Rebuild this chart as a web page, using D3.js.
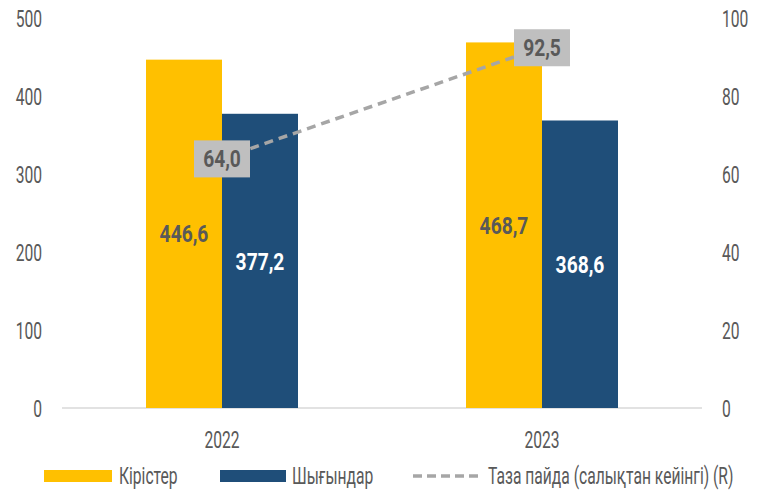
<!DOCTYPE html>
<html>
<head>
<meta charset="utf-8">
<script src="https://cdn.jsdelivr.net/npm/d3@7"></script>
<style>
  body { margin: 0; background: #fff; }
  svg text { font-family: Roboto, "Noto Sans", sans-serif; }
</style>
</head>
<body>
<div id="chart"></div>
<script>
const years = ["2022", "2023"];
const seriesNames = ["Кірістер", "Шығындар"];
const revenue = [446.6, 468.7];
const expenses = [377.2, 368.6];
const netProfit = [64.0, 92.5];
const lineName = "Таза пайда (салықтан кейінгі) (R)";
const leftTicks = [0, 100, 200, 300, 400, 500];
const rightTicks = [0, 20, 40, 60, 80, 100];

const width = 758;
const height = 492;
const colors = ["#FFC000", "#1F4E79"];
const labelColors = ["#595959", "#ffffff"];
const textColor = "#595959";
const narrow = 0.68;     // condensed look for regular text
const narrowBold = 0.8;  // condensed look for bold labels
const fmt = (v) => v.toFixed(1).replace(".", ",");

const svg = d3.select("#chart").append("svg").attr("width", width).attr("height", height);

// text helper: squeezes text horizontally to get a condensed face
function addText(parent, x, y, str, opt) {
  const g = parent.append("g").attr("transform", `translate(${x},${y}) scale(${opt.sx || narrow},1)`);
  return g.append("text")
    .attr("text-anchor", opt.anchor || "start")
    .attr("dy", "0.36em")
    .attr("fill", opt.fill || textColor)
    .style("font-size", (opt.size || 23) + "px")
    .style("font-weight", opt.weight || "normal")
    .text(str);
}

const x0 = d3.scaleBand().domain(years).range([62, 702]).paddingInner(0.525).paddingOuter(0.2625);
const x1 = d3.scaleBand().domain(seriesNames).range([0, x0.bandwidth()]);
const yL = d3.scaleLinear().domain([0, 500]).range([408, 18]);
const yR = d3.scaleLinear().domain([0, 100]).range([408, 18]);

// axes (labels only)
const leftAxis = svg.append("g").attr("transform", "translate(42,0)")
  .call(d3.axisLeft(yL).tickValues(leftTicks).tickSize(0).tickPadding(0));
const rightAxis = svg.append("g").attr("transform", "translate(722,0)")
  .call(d3.axisRight(yR).tickValues(rightTicks).tickSize(0).tickPadding(0));
[leftAxis, rightAxis].forEach((a) => {
  a.select(".domain").remove();
  a.selectAll("text")
    .attr("fill", textColor)
    .attr("dy", "0.36em")
    .attr("transform", `scale(${narrow},1)`)
    .style("font-size", "23px")
    .style("font-family", "Roboto, sans-serif");
});

// baseline
svg.append("line")
  .attr("x1", 62).attr("x2", 702)
  .attr("y1", yL(0)).attr("y2", yL(0))
  .attr("stroke", "#d9d9d9").attr("stroke-width", 1.5);

// bars
const data = years.map((y, i) => ({ year: y, values: [revenue[i], expenses[i]] }));
const groups = svg.selectAll(".grp").data(data).join("g")
  .attr("transform", (d) => `translate(${x0(d.year)},0)`);

groups.selectAll("rect").data((d) => d.values.map((v, j) => ({ v, j })))
  .join("rect")
  .attr("x", (d) => x1(seriesNames[d.j]))
  .attr("width", x1.bandwidth())
  .attr("y", (d) => yL(d.v))
  .attr("height", (d) => yL(0) - yL(d.v))
  .attr("fill", (d) => colors[d.j]);

groups.each(function (d) {
  const g = d3.select(this);
  d.values.forEach((v, j) => {
    addText(g, x1(seriesNames[j]) + x1.bandwidth() / 2, yL(v / 2), fmt(v),
      { anchor: "middle", fill: labelColors[j], size: 24, weight: "bold", sx: narrowBold });
  });
});

// net profit line
const linePts = years.map((y, i) => [x0(y) + x0.bandwidth() / 2, yR(netProfit[i])]);
svg.append("path")
  .attr("d", d3.line()(linePts))
  .attr("fill", "none")
  .attr("stroke", "#a6a6a6")
  .attr("stroke-width", 3.5)
  .attr("stroke-dasharray", "9,6");

linePts.forEach((p, i) => {
  svg.append("rect")
    .attr("x", p[0] - 28).attr("y", p[1] - 18).attr("width", 56).attr("height", 37)
    .attr("fill", "#bfbfbf");
  addText(svg, p[0], p[1], fmt(netProfit[i]),
    { anchor: "middle", size: 24, weight: "bold", sx: narrowBold });
});

// category labels
years.forEach((y) => {
  addText(svg, x0(y) + x0.bandwidth() / 2, 440, y, { anchor: "middle", size: 23 });
});

// legend
const leg = svg.append("g").attr("transform", "translate(0,476)");
leg.append("rect").attr("x", 44).attr("y", -6).attr("width", 68).attr("height", 12).attr("fill", colors[0]);
addText(leg, 119, 0, seriesNames[0], { size: 23 });
leg.append("rect").attr("x", 220).attr("y", -6).attr("width", 66).attr("height", 12).attr("fill", colors[1]);
addText(leg, 292, 0, seriesNames[1], { size: 23 });
leg.append("line").attr("x1", 413).attr("x2", 482).attr("y1", 0).attr("y2", 0)
  .attr("stroke", "#a6a6a6").attr("stroke-width", 3.5).attr("stroke-dasharray", "9,5");
addText(leg, 488, 0, lineName, { size: 23 });
</script>
</body>
</html>
